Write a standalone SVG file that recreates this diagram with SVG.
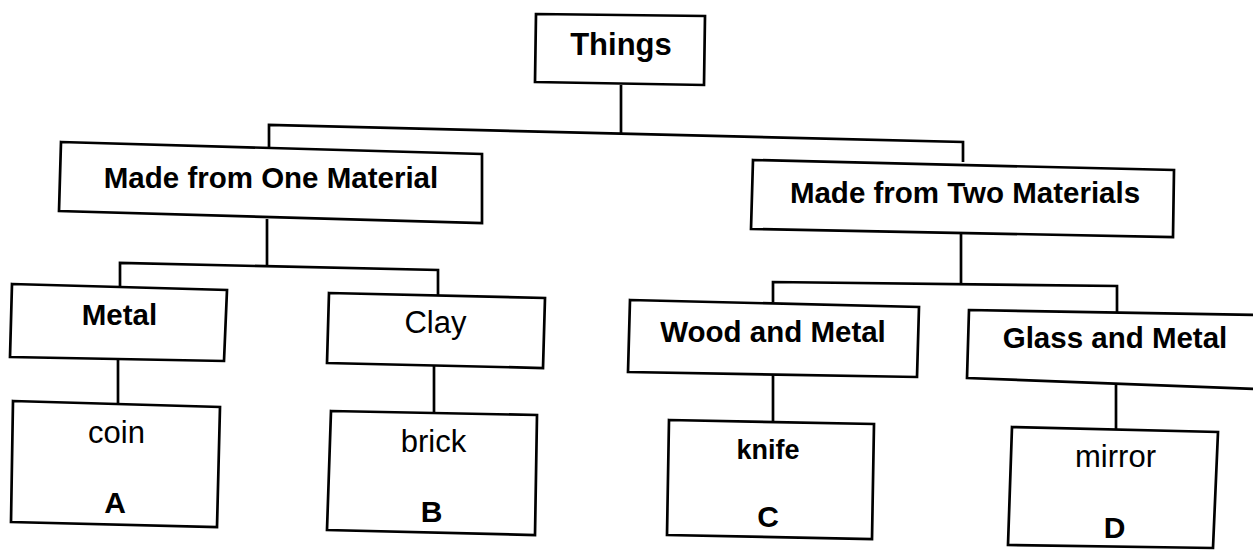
<svg xmlns="http://www.w3.org/2000/svg" width="1253" height="550" viewBox="0 0 1253 550">
<style>
.box{fill:#fff;stroke:#000;stroke-width:2.7;stroke-linejoin:miter}
.con{fill:none;stroke:#000;stroke-width:2.7}
.h{font-family:"Liberation Sans",Arial,sans-serif;font-weight:bold;font-size:29.5px;fill:#000;text-anchor:middle}
.r{font-family:"Liberation Sans",Arial,sans-serif;font-weight:normal;font-size:31px;fill:#000;text-anchor:middle}
.l{font-family:"Liberation Sans",Arial,sans-serif;font-weight:bold;font-size:30px;fill:#000;text-anchor:middle}
</style>
<rect x="0" y="0" width="1253" height="550" fill="#fff"/>
<g id="connectors">
<polyline class="con" points="621,85 621,133"/>
<polyline class="con" points="269,147 269,125 963,142 963,162"/>
<polyline class="con" points="267,219 267,266"/>
<polyline class="con" points="120,287 120,263 438,270 438,296"/>
<polyline class="con" points="118,359 118,405"/>
<polyline class="con" points="434,366 434,413"/>
<polyline class="con" points="961,234 961,284"/>
<polyline class="con" points="773,302 773,282 1117,286 1117,313"/>
<polyline class="con" points="773,375 773,422"/>
<polyline class="con" points="1116,385 1116,430"/>
</g>
<g id="things">
<polygon class="box" points="536,14 705,16 704,85 535,82"/>
<text class="h" x="621" y="55" style="font-size:31px">Things</text>
</g>
<g id="one-material">
<polygon class="box" points="61,142 482,154 482,223 59,211"/>
<text class="h" x="271" y="187.5">Made from One Material</text>
</g>
<g id="two-materials">
<polygon class="box" points="753,160 1174,170 1173,237 751,229"/>
<text class="h" x="965" y="203">Made from Two Materials</text>
</g>
<g id="metal">
<polygon class="box" points="12,284 227,290 224,361 10,357"/>
<text class="h" x="119.5" y="325">Metal</text>
</g>
<g id="clay">
<polygon class="box" points="329,293 545,298 543,368 327,363"/>
<text class="r" x="435.5" y="333">Clay</text>
</g>
<g id="wood-metal">
<polygon class="box" points="630,300 919,307 917,377 628,372"/>
<text class="h" x="773" y="342">Wood and Metal</text>
</g>
<g id="glass-metal">
<polygon class="box" points="969,310 1258,315 1258,389 967,378"/>
<text class="h" x="1115" y="348">Glass and Metal</text>
</g>
<g id="coin">
<polygon class="box" points="13,401 220,407 217,527 11,522"/>
<text class="r" x="116.5" y="443">coin</text>
<text class="l" x="115" y="513">A</text>
</g>
<g id="brick">
<polygon class="box" points="331,411 537,415 535,535 327,530"/>
<text class="r" x="433.5" y="452">brick</text>
<text class="l" x="431.5" y="522">B</text>
</g>
<g id="knife">
<polygon class="box" points="669,420 874,424 872,539 667,535"/>
<text class="l" x="768" y="459" style="font-size:27px">knife</text>
<text class="l" x="768" y="527">C</text>
</g>
<g id="mirror">
<polygon class="box" points="1012,427 1218,432 1213,548 1008,545"/>
<text class="r" x="1115.5" y="467">mirror</text>
<text class="l" x="1114.5" y="538">D</text>
</g>
</svg>
